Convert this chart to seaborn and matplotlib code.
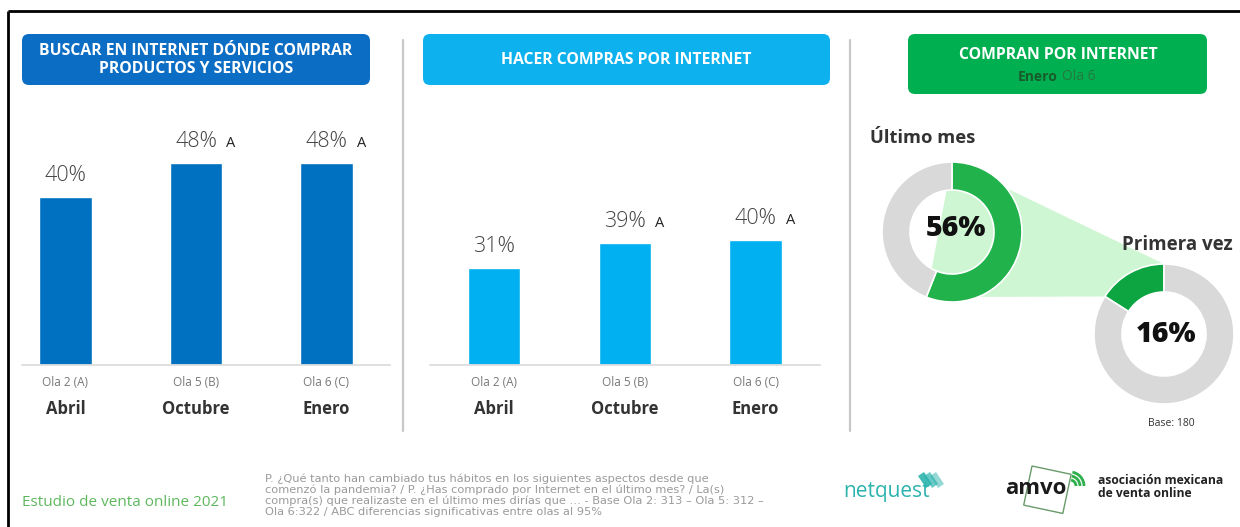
import matplotlib
matplotlib.use("Agg")
import matplotlib.pyplot as plt
from matplotlib.patches import FancyBboxPatch, Polygon, Rectangle, Arc
import numpy as np
import seaborn as sns

# ---- data ----
waves = ["Ola 2 (A)", "Ola 5 (B)", "Ola 6 (C)"]
months = ["Abril", "Octubre", "Enero"]
search_pct = [40, 48, 48]
search_sig = ["", "A", "A"]
buy_pct = [31, 39, 40]
buy_sig = ["", "A", "A"]
last_month_pct = 56
first_time_pct = 16
base_n = 180

sns.set_theme(style="white")
plt.rcParams["font.family"] = ["Open Sans", "DejaVu Sans"]

W, H = 1240, 527
fig = plt.figure(figsize=(W / 100, H / 100), dpi=100)
fig.patch.set_facecolor("white")


def px_axes(x0, y0, x1, y1, **kw):
    """Axes placed by pixel box (top-left origin)."""
    return fig.add_axes([x0 / W, 1 - y1 / H, (x1 - x0) / W, (y1 - y0) / H], **kw)


# ---- background canvas: frame, headers, dividers, footer ----
cv = fig.add_axes([0, 0, 1, 1], zorder=0)
cv.set_xlim(0, W)
cv.set_ylim(H, 0)
cv.axis("off")

cv.plot([8, W], [11, 11], color="black", lw=2, solid_capstyle="butt")
cv.plot([8, 8], [11, H], color="black", lw=2, solid_capstyle="butt")

for xd in (403, 850):
    cv.plot([xd, xd], [40, 431], color="#c8c8c8", lw=1.6)


def header(x0, y0, x1, y1, color):
    cv.add_patch(FancyBboxPatch((x0, y0), x1 - x0, y1 - y0,
                                boxstyle="round,pad=0,rounding_size=7",
                                fc=color, ec="none"))


header(22, 34, 370, 85, "#0B6DC3")
cv.text(196, 60, "BUSCAR EN INTERNET DÓNDE COMPRAR\nPRODUCTOS Y SERVICIOS",
        ha="center", va="center", color="white", fontsize=11.3, fontweight="bold",
        linespacing=1.2)
header(423, 34, 830, 85, "#0DB1EE")
cv.text(626, 60, "HACER COMPRAS POR INTERNET", ha="center", va="center",
        color="white", fontsize=11.3, fontweight="bold")
header(908, 34, 1207, 94, "#00B050")
cv.text(1058, 55, "COMPRAN POR INTERNET", ha="center", va="center",
        color="white", fontsize=11.3, fontweight="bold")
cv.text(1058, 77, "Enero", ha="right", va="center", color="#185c2c",
        fontsize=10, fontweight="bold")
cv.text(1062, 77, "Ola 6", ha="left", va="center", color="#237a3c", fontsize=10)

cv.text(22, 502, "Estudio de venta online 2021", ha="left", va="center",
        color="#5DB85D", fontsize=11)
note = ("P. ¿Qué tanto han cambiado tus hábitos en los siguientes aspectos desde que\n"
        "comenzó la pandemia? / P. ¿Has comprado por Internet en el último mes? / La(s)\n"
        "compra(s) que realizaste en el último mes dirías que … - Base Ola 2: 313 – Ola 5: 312 –\n"
        "Ola 6:322 / ABC diferencias significativas entre olas al 95%")
cv.text(265, 474, note, ha="left", va="top", color="#9a9a9a", fontsize=8.2,
        linespacing=1.05, family=["DejaVu Sans"])

# logos drawn as text and simple shapes
cv.text(843, 492, "netquest", ha="left", va="center", color="#2DB3AE",
        fontsize=15, fontweight="medium")
for i in range(3):
    cv.add_patch(Polygon([[918 + i * 6, 476], [924 + i * 6, 472],
                          [932 + i * 6, 484], [926 + i * 6, 488]],
                         closed=True, fc="#2DB3AE", ec="none", alpha=0.9 - 0.2 * i))
cv.add_patch(Rectangle((1032, 466), 40, 40, angle=12, fill=False,
                       ec="#6a9a6a", lw=1.0))
for r in (6, 10, 14):
    cv.add_patch(Arc((1070, 486), r * 2, r * 2, theta1=-80, theta2=0,
                     ec="#2EB04C", lw=2))
cv.text(1005, 488, "amvo", ha="left", va="center", color="#1a1a1a",
        fontsize=16, fontweight="bold")
cv.text(1098, 487, "asociación mexicana\nde venta online", ha="left",
        va="center", color="#222222", fontsize=8.7, fontweight="bold",
        linespacing=0.95)


# ---- bar panels ----
def bar_panel(x0, x1, values, sig, color, ymax, xlim):
    ax = px_axes(x0, 100, x1, 365, zorder=2)
    ax.set_facecolor("none")
    sns.barplot(x=waves, y=values, ax=ax, color=color, saturation=1,
                width=0.4)
    ax.set_xlim(*xlim)
    ax.set_ylim(0, ymax)
    ax.set_yticks([])
    ax.set_ylabel("")
    ax.set_xlabel("")
    for s in ("top", "left", "right"):
        ax.spines[s].set_visible(False)
    ax.spines["bottom"].set_color("#dddddd")
    ax.spines["bottom"].set_linewidth(1.3)
    ax.tick_params(axis="x", length=0, pad=8, labelsize=8.5, labelcolor="#777777")
    for i, (v, s) in enumerate(zip(values, sig)):
        ax.annotate(f"{v}%", (i, v), xytext=(0, 11.5), textcoords="offset points",
                    ha="center", va="baseline", fontsize=15.5, color="#444444",
                    fontweight="light")
        if s:
            ax.annotate(s, (i, v), xytext=(25, 11.5), textcoords="offset points",
                        ha="center", va="baseline", fontsize=10.5, color="#222222")
    for i, m in enumerate(months):
        ax.text(i, -0.165, m, transform=ax.get_xaxis_transform(), ha="center",
                va="center", fontsize=12, fontweight="bold", color="#333333")
    return ax


bar_panel(22, 390, search_pct, search_sig, "#0070C0", 265 / 4.2, (-0.333, 2.487))
bar_panel(430, 820, buy_pct, buy_sig, "#00B0F0", 265 / 3.13, (-0.49, 2.493))

# ---- donut panel ----
dn = fig.add_axes([0, 0, 1, 1], zorder=1)
dn.set_facecolor("none")
R, ring = 70, 28
c1 = (952, H - 232)
c2 = (1164, H - 334)
light = "#CFF6D2"
g1 = "#22B24C"
g2 = "#0CA541"
grey = "#D9D9D9"

a_end1 = np.deg2rad(90 - 360 * last_month_pct / 100)
a_end2 = np.deg2rad(90 + 360 * first_time_pct / 100)
poly = [
    (c1[0], c1[1] + R),
    (c2[0], c2[1] + R),
    (c2[0] + R * np.cos(a_end2), c2[1] + R * np.sin(a_end2)),
    (c1[0] + R * np.cos(a_end1), c1[1] + R * np.sin(a_end1)),
]
dn.add_patch(Polygon(poly, closed=True, fc=light, ec="none", zorder=0))

wp = dict(width=ring, edgecolor="white", linewidth=1.2)
dn.pie([last_month_pct, 100 - last_month_pct], colors=[g1, grey], startangle=90,
       counterclock=False, radius=R, center=c1, wedgeprops=wp, frame=True)
dn.pie([first_time_pct, 100 - first_time_pct], colors=[g2, grey], startangle=90,
       counterclock=True, radius=R, center=c2, wedgeprops=wp, frame=True)
dn.set_xlim(0, W)
dn.set_ylim(0, H)
dn.set_aspect("auto")
dn.axis("off")

dn.text(c1[0] + 4, c1[1] + 3, f"{last_month_pct}%", ha="center", va="center",
        fontsize=20.5, fontweight="heavy", color="#111111")
dn.text(c2[0] + 2, c2[1] - 1, f"{first_time_pct}%", ha="center", va="center",
        fontsize=20.5, fontweight="heavy", color="#111111")
dn.text(870, H - 138, "Último mes", ha="left", va="center", fontsize=13.2,
        fontweight="bold", color="#333333")
dn.text(1122, H - 245, "Primera vez", ha="left", va="center", fontsize=13.5,
        fontweight="bold", color="#333333")
dn.text(1171, H - 423, f"Base: {base_n}", ha="center", va="center",
        fontsize=7.5, color="#333333")

fig.savefig("out.png", dpi=100)
